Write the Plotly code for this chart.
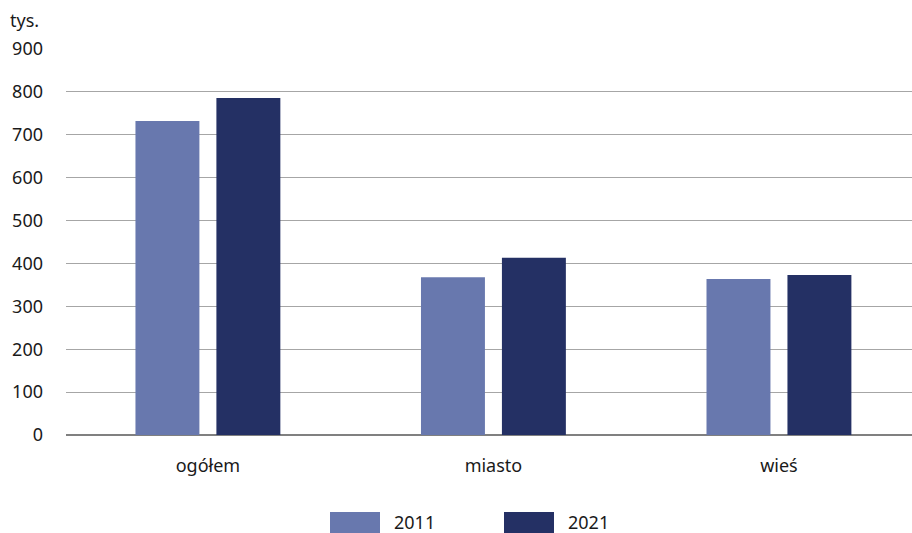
import plotly.graph_objects as go

categories = ["ogółem", "miasto", "wieś"]
years = ["2011", "2021"]
values_2011 = [732, 368, 364]
values_2021 = [786, 413, 373]
colors = ["#6878ae", "#243064"]
y_ticks = [0, 100, 200, 300, 400, 500, 600, 700, 800, 900]

FONT = "Noto Sans, Open Sans, sans-serif"
FS = 18
W, H = 912, 533
L, R, T, B = 66, 0, 49, 98
PW, PH = W - L - R, H - T - B


def px_x(x):
    return (x - L) / PW


def px_y(y):
    return (H - B - y) / PH


fig = go.Figure()
for name, vals, col in zip(years, [values_2011, values_2021], colors):
    fig.add_trace(go.Bar(x=categories, y=vals, name=name, marker_color=col,
                         marker_line_width=0, showlegend=False))

shapes = []
annotations = [dict(text="tys.", xref="paper", yref="paper", x=px_x(8),
                    y=px_y(20), xanchor="left", yanchor="middle",
                    showarrow=False, font=dict(size=FS))]
legend_x = [330, 504]
for name, col, lx in zip(years, colors, legend_x):
    shapes.append(dict(type="rect", xref="paper", yref="paper",
                       x0=px_x(lx), x1=px_x(lx + 50), y0=px_y(512), y1=px_y(533),
                       fillcolor=col, line=dict(width=0)))
    annotations.append(dict(text=name, xref="paper", yref="paper",
                            x=px_x(lx + 62), y=px_y(522), xanchor="left",
                            yanchor="middle", showarrow=False,
                            font=dict(size=FS)))

fig.update_layout(
    width=W, height=H,
    margin=dict(l=L, r=R, t=T, b=B, autoexpand=False),
    paper_bgcolor="white", plot_bgcolor="white",
    barmode="group", bargap=0.433, bargroupgap=0.21,
    font=dict(family=FONT, size=FS, color="#1a1a1a"),
    showlegend=False,
    xaxis=dict(range=[-0.497, 2.466], showgrid=False, showline=False,
               ticks="", ticklabelstandoff=18, tickfont=dict(size=FS)),
    yaxis=dict(range=[0, 900], tickvals=y_ticks, showgrid=True,
               gridcolor="#a6a6a6", gridwidth=1, zeroline=True,
               zerolinecolor="#808080", zerolinewidth=1.5,
               ticks="", ticklabelstandoff=22, tickfont=dict(size=FS)),
    shapes=shapes,
    annotations=annotations,
)

fig.write_html("out.html", config={"displayModeBar": False},
               post_script="document.body.style.margin='0';document.body.style.overflow='hidden';")
